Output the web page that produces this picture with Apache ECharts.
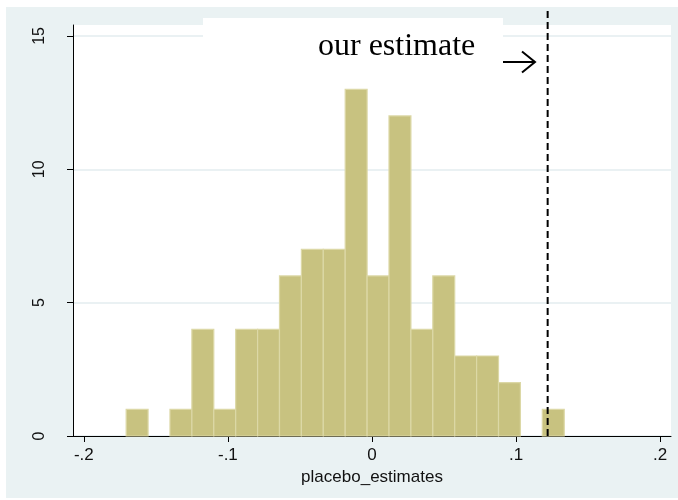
<!DOCTYPE html>
<html>
<head>
<meta charset="utf-8">
<script src="https://cdn.jsdelivr.net/npm/echarts@6/dist/echarts.min.js"></script>
<style>
  html, body { margin: 0; padding: 0; background: #ffffff; }
  #chart { width: 678px; height: 500px; }
</style>
</head>
<body>
<div id="chart"></div>
<script>
// Histogram of placebo estimates: 20 bins, frequency counts
const binEdges = [-0.1706, -0.1554, -0.1402, -0.1250, -0.1098, -0.0946, -0.0794,
                  -0.0642, -0.0490, -0.0338, -0.0186, -0.0034, 0.0118, 0.0270,
                  0.0422, 0.0574, 0.0726, 0.0878, 0.1030, 0.1182, 0.1334];
const binCounts = [1, 0, 1, 4, 1, 4, 4, 6, 7, 7, 13, 6, 12, 4, 6, 3, 3, 2, 0, 1];
const xTicks = [-0.2, -0.1, 0, 0.1, 0.2];
const yTicks = [0, 5, 10, 15];
const ourEstimate = 0.1219;
const xRange = [-0.2075, 0.2075];
const yMax = 15.41;

const histData = binCounts.map((c, i) => [binEdges[i], binEdges[i + 1], c]);

// Stata-style tick label: drop the leading zero ("-.2", ".1")
function stataNum(v) {
  if (v === 0) return '0';
  const s = String(Math.abs(v)).replace(/^0/, '');
  return (v < 0 ? '-' : '') + s;
}

const chart = echarts.init(document.getElementById('chart'), null, { renderer: 'canvas' });

const axisFont = 'Liberation Sans, Arial, Helvetica, sans-serif';

chart.setOption({
  animation: false,
  backgroundColor: '#ffffff',
  graphic: [
    // graph region background
    { type: 'rect', z: -10, shape: { x: 6, y: 7, width: 672, height: 491 },
      style: { fill: '#eaf2f3' } },
    // white box behind the annotation
    { type: 'rect', z: 5, shape: { x: 203, y: 18, width: 300, height: 60 },
      style: { fill: '#ffffff' } },
    { type: 'text', z: 6, x: 318, y: 47,
      style: { text: 'our estimate', fill: '#000000',
               font: '32px "Liberation Serif", "Times New Roman", serif',
               align: 'left', verticalAlign: 'middle' } },
    // arrow pointing at the dashed line
    { type: 'group', z: 6, x: 503, y: 62, children: [
      { type: 'line', z: 6, shape: { x1: 0, y1: 0, x2: 31, y2: 0 },
        style: { stroke: '#000000', lineWidth: 2 } },
      { type: 'polyline', z: 6, shape: { points: [[19, -10.5], [32, 0], [19, 10.5]] },
        style: { stroke: '#000000', lineWidth: 2, fill: null } }
    ] }
  ],
  grid: [
    { left: 73, right: 7, top: 25, bottom: 64, show: true,
      backgroundColor: '#ffffff', borderWidth: 0 },
    { left: 73, right: 7, top: 8, bottom: 64, show: false }
  ],
  xAxis: [
    {
      type: 'value', gridIndex: 0, min: xRange[0], max: xRange[1],
      name: 'placebo_estimates', nameLocation: 'middle', nameGap: 28,
      nameTextStyle: { fontFamily: axisFont, fontSize: 17, color: '#111111' },
      axisLine: { show: true, onZero: false, lineStyle: { color: '#000000', width: 1 } },
      axisTick: { show: true, length: 6, customValues: xTicks,
                  lineStyle: { color: '#000000', width: 1 } },
      axisLabel: { customValues: xTicks, formatter: stataNum, margin: 11,
                   fontFamily: axisFont, fontSize: 17, color: '#111111' },
      splitLine: { show: false }
    },
    {
      type: 'value', gridIndex: 1, min: xRange[0], max: xRange[1], show: false
    }
  ],
  yAxis: [
    {
      type: 'value', gridIndex: 0, min: 0, max: yMax, interval: 5,
      axisLine: { show: true, onZero: false, lineStyle: { color: '#000000', width: 1 } },
      axisTick: { show: true, length: 6, customValues: yTicks,
                  lineStyle: { color: '#000000', width: 1 } },
      axisLabel: { customValues: yTicks, rotate: 90, margin: 25,
                   fontFamily: axisFont, fontSize: 16, color: '#111111' },
      splitLine: { show: true, lineStyle: { color: '#e3edef', width: 1.5 } }
    },
    { type: 'value', gridIndex: 1, min: 0, max: 1, show: false }
  ],
  series: [
    {
      type: 'custom',
      xAxisIndex: 0, yAxisIndex: 0,
      data: histData,
      encode: { x: [0, 1], y: 2 },
      z: 2,
      renderItem: function (params, api) {
        const count = api.value(2);
        if (!count) return null;
        const topLeft = api.coord([api.value(0), count]);
        const bottomRight = api.coord([api.value(1), 0]);
        return {
          type: 'rect',
          shape: { x: topLeft[0], y: topLeft[1],
                   width: bottomRight[0] - topLeft[0],
                   height: bottomRight[1] - topLeft[1] },
          style: { fill: '#c8c280', stroke: '#dcd8a6', lineWidth: 1.2 }
        };
      }
    },
    {
      type: 'line',
      xAxisIndex: 1, yAxisIndex: 1,
      data: [[ourEstimate, 0], [ourEstimate, 1]],
      symbol: 'none',
      z: 8,
      lineStyle: { color: '#000000', width: 2, type: [7, 4] }
    }
  ]
});
</script>
</body>
</html>
